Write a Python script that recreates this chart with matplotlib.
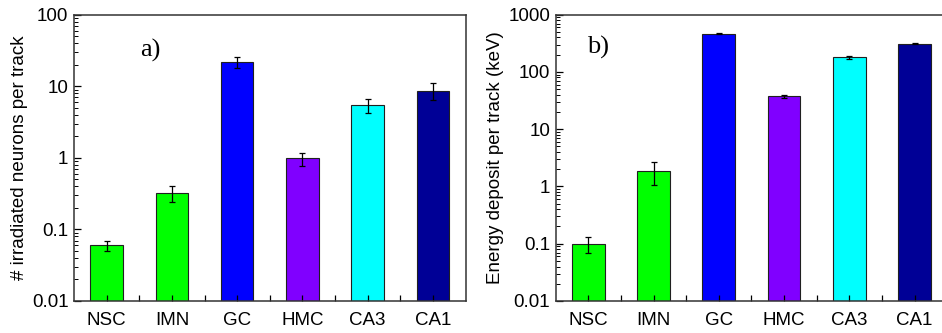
import numpy as np
import matplotlib.pyplot as plt
from matplotlib.ticker import LogLocator, FixedLocator, NullFormatter

# data
cells = ['NSC', 'IMN', 'GC', 'HMC', 'CA3', 'CA1']
neurons = [0.06, 0.32, 22.0, 0.98, 5.4, 8.7]
neurons_err = [0.01, 0.08, 3.8, 0.2, 1.2, 2.3]
energy = [0.1, 1.84, 462.0, 37.5, 179.0, 309.0]
energy_err = [0.03, 0.8, 10.0, 2.0, 8.0, 5.0]
bar_colors = ['#00ff00', '#00ff00', '#0000ff', '#8000ff', '#00ffff', '#000096']

plt.rcParams['font.family'] = ['Liberation Sans', 'DejaVu Sans']

fig = plt.figure(figsize=(9.42, 3.33), dpi=100)
ax1 = fig.add_axes([0.0786, 0.0961, 0.4156, 0.8598])
ax2 = fig.add_axes([0.5899, 0.0961, 0.4156, 0.8598])

x = np.arange(1, len(cells) + 1)


def draw(ax, vals, errs, ylim, ylabel, tag, tag_pos):
    ax.bar(x, vals, width=0.5, color=bar_colors, edgecolor='#202020', linewidth=0.8,
           yerr=errs, error_kw=dict(ecolor='black', elinewidth=0.9, capsize=2.5, capthick=0.9))
    ax.set_yscale('log')
    ax.set_ylim(*ylim)
    ax.set_xlim(0.5, 6.5)
    ax.set_xticks(x)
    ax.set_xticklabels(cells, fontsize=13.5)
    ax.xaxis.set_minor_locator(FixedLocator(np.arange(1.5, 6.5, 1.0)))
    ax.yaxis.set_major_locator(LogLocator(base=10, numticks=10))
    ax.yaxis.set_minor_locator(LogLocator(base=10, subs=np.arange(2, 10), numticks=20))
    ax.yaxis.set_minor_formatter(NullFormatter())
    ax.set_yticklabels(['%g' % t for t in ax.get_yticks()])
    ax.set_ylim(*ylim)
    ax.tick_params(axis='both', which='both', direction='in', top=False, right=False)
    ax.tick_params(axis='y', which='major', length=5, width=0.9, labelsize=13.5, pad=4)
    ax.tick_params(axis='y', which='minor', length=3, width=0.7)
    ax.tick_params(axis='x', which='major', length=4, width=0.9, pad=8)
    ax.tick_params(axis='x', which='minor', length=4, width=0.9)
    for s in ax.spines.values():
        s.set_linewidth(1.1)
        s.set_color('#333333')
    ax.set_ylabel(ylabel, fontsize=13.5, labelpad=3)
    ax.text(tag_pos[0], tag_pos[1], tag, transform=ax.transAxes, fontsize=19,
            family=['Liberation Serif', 'DejaVu Serif'], va='center')


draw(ax1, neurons, neurons_err, (0.01, 100), '# irradiated neurons per track', 'a)', (0.168, 0.876))
draw(ax2, energy, energy_err, (0.01, 1000), 'Energy deposit per track (keV)', 'b)', (0.08, 0.885))

fig.savefig('out.png', dpi=100)
